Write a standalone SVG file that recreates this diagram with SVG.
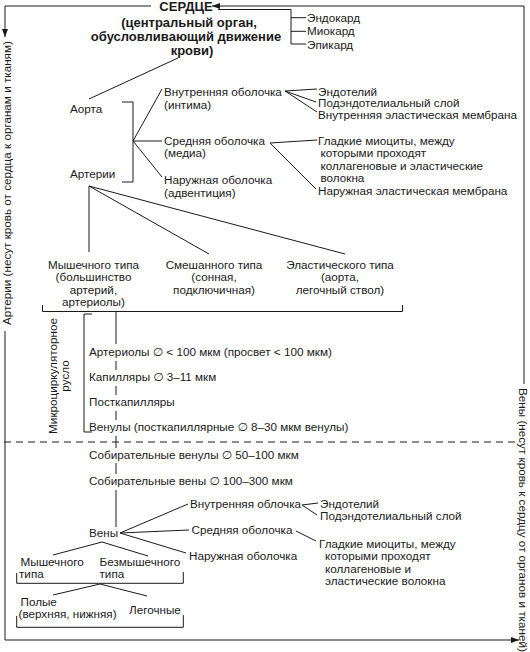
<svg xmlns="http://www.w3.org/2000/svg" width="530" height="652" viewBox="0 0 530 652">
<defs>
<marker id="ah" viewBox="0 0 8 6" refX="8" refY="3" markerWidth="8" markerHeight="6" orient="auto" markerUnits="userSpaceOnUse">
<path d="M0,0 L8,3 L0,6 z" fill="#1a1a1a"/>
</marker>
</defs>
<style>
text{font-family:"Liberation Sans",Arial,"DejaVu Sans",sans-serif;font-size:11.7px;fill:#1a1a1a}
.b{font-weight:bold;font-size:13px;text-anchor:middle}
.c{text-anchor:middle}
.ln{fill:none;stroke:#1a1a1a;stroke-width:1}
.d{stroke-dasharray:7 5}
</style>
<rect width="530" height="652" fill="#fff"/>

<g id="connectors">
<path class="ln" d="M151,6 H5 V37" marker-end="url(#ah)"/>
<path class="ln" d="M5,331 V640 H519" marker-end="url(#ah)"/>
<path class="ln" d="M524,384 V6 H212" marker-end="url(#ah)"/>
<path class="ln d" d="M4,442 H516"/>
<path class="ln" d="M218,9.5 H291 V44 H306 M291,17.7 H306 M291,31.3 H306"/>
<path class="ln" d="M178,58 L89,99"/>
<path class="ln" d="M122,102 H133 V182 H122"/>
<path class="ln" d="M133,141 L162,89 M133,141 H162 M133,141 L162,177"/>
<path class="ln" d="M285,91 L317,89 M285,91 L316,102 M285,91 L317,112"/>
<path class="ln" d="M270,143 L317,140 M270,143 L316,189"/>
<path class="ln" d="M89,186 V252 M89,186 L209,254 M89,186 L345,254"/>
<path class="ln" d="M42.5,305 V311.5 H402.5 V305"/>
<path class="ln" d="M92,314 H84 V432 H92"/>
<path class="ln" d="M116,311.5 V344 M116,361 V370 M116,386 V395 M116,411 V420 M116,436 V448 M116,463 V474 M116,490 V527"/>
<path class="ln" d="M120,533 L188,504 M120,533 L189,530 M120,533 L186,553"/>
<path class="ln" d="M302,505 L318,503 M302,505 L317,515"/>
<path class="ln" d="M296,531 L316,541"/>
<path class="ln" d="M102,542 L53,555 M102,542 L148,556"/>
<path class="ln" d="M16.7,573 V583.3 H183.3 V572"/>
<path class="ln" d="M100,584 L53,595 M100,584 L147,596"/>
<path class="ln" d="M16.7,616 V627.3 H183.3 V615"/>
</g>

<g id="frame-labels">
<text transform="translate(10.5,325) rotate(-90)">Артерии (несут кровь от сердца к органам и тканям)</text>
<text transform="translate(519,388) rotate(90)">Вены (несут кровь к сердцу от органов и тканей)</text>
</g>

<g id="heart">
<text class="b" x="186" y="10.5">СЕРДЦЕ</text>
<text class="b" x="189" y="26.5">(центральный орган,</text>
<text class="b" x="186" y="40.5">обусловливающий движение</text>
<text class="b" x="192" y="54.5">крови)</text>
</g>
<g id="heart-layers">
<text x="307" y="21.5">Эндокард</text>
<text x="307" y="35">Миокард</text>
<text x="307" y="48.5">Эпикард</text>
</g>

<g id="aorta"><text x="70" y="113">Аорта</text></g>
<g id="arteries"><text x="70" y="178">Артерии</text></g>

<g id="art-intima">
<text x="164" y="96">Внутренняя оболочка</text>
<text x="164" y="108.5">(интима)</text>
</g>
<g id="art-media">
<text x="164" y="144.5">Средняя оболочка</text>
<text x="164" y="157">(медиа)</text>
</g>
<g id="art-adventitia">
<text x="164" y="184">Наружная оболочка</text>
<text x="164" y="196.5">(адвентиция)</text>
</g>

<g id="art-intima-parts">
<text x="318" y="95.5">Эндотелий</text>
<text x="318" y="107">Подэндотелиальный слой</text>
<text x="318" y="118.5">Внутренняя эластическая мембрана</text>
</g>
<g id="art-media-parts">
<text x="318" y="144.5">Гладкие миоциты, между</text>
<text x="320.5" y="157">которыми проходят</text>
<text x="320.5" y="169.5">коллагеновые и эластические</text>
<text x="320.5" y="182">волокна</text>
<text x="318" y="194.5">Наружная эластическая мембрана</text>
</g>

<g id="muscular-type">
<text class="c" x="93.5" y="268.5">Мышечного типа</text>
<text class="c" x="93.5" y="281">(большинство</text>
<text class="c" x="93.5" y="293.5">артерий,</text>
<text class="c" x="93.5" y="306">артериолы)</text>
</g>
<g id="mixed-type">
<text class="c" x="214" y="268.5">Смешанного типа</text>
<text class="c" x="214" y="281">(сонная,</text>
<text class="c" x="214" y="293.5">подключичная)</text>
</g>
<g id="elastic-type">
<text class="c" x="340" y="268.5">Эластического типа</text>
<text class="c" x="340" y="281">(аорта,</text>
<text class="c" x="340" y="293.5">легочный ствол)</text>
</g>

<g id="microcirculation">
<text transform="translate(57,376) rotate(-90)" class="c">Микроциркуляторное</text>
<text transform="translate(69,376) rotate(-90)" class="c">русло</text>
</g>
<g id="arterioles"><text x="89" y="356" textLength="243" lengthAdjust="spacingAndGlyphs">Артериолы ∅ &lt; 100 мкм (просвет &lt; 100 мкм)</text></g>
<g id="capillaries"><text x="89" y="381">Капилляры ∅ 3–11 мкм</text></g>
<g id="postcapillaries"><text x="89" y="406">Посткапилляры</text></g>
<g id="venules"><text x="89" y="431">Венулы (посткапиллярные ∅ 8–30 мкм венулы)</text></g>
<g id="collecting-venules"><text x="89" y="459">Собирательные венулы ∅ 50–100 мкм</text></g>
<g id="collecting-veins"><text x="89" y="485">Собирательные вены ∅ 100–300 мкм</text></g>

<g id="veins"><text x="89" y="537">Вены</text></g>
<g id="vein-intima"><text x="190" y="508">Внутренняя облочка</text></g>
<g id="vein-media"><text x="191.5" y="534">Средняя оболочка</text></g>
<g id="vein-adventitia"><text x="189" y="560">Наружная оболочка</text></g>
<g id="vein-intima-parts">
<text x="320" y="508">Эндотелий</text>
<text x="320" y="520">Подэндотелиальный слой</text>
</g>
<g id="vein-media-parts">
<text x="319" y="547.5">Гладкие миоциты, между</text>
<text x="325" y="560">которыми проходят</text>
<text x="325" y="572.5">коллагеновые и</text>
<text x="325" y="585">эластические волокна</text>
</g>

<g id="vein-muscular">
<text x="20.5" y="566">Мышечного</text>
<text x="19" y="578">типа</text>
</g>
<g id="vein-nonmuscular">
<text x="99.5" y="566">Безмышечного</text>
<text x="99.5" y="578">типа</text>
</g>
<g id="vein-cava">
<text x="20.5" y="606">Полые</text>
<text x="18.5" y="618">(верхняя, нижняя)</text>
</g>
<g id="vein-pulmonary"><text x="129" y="614">Легочные</text></g>
</svg>
